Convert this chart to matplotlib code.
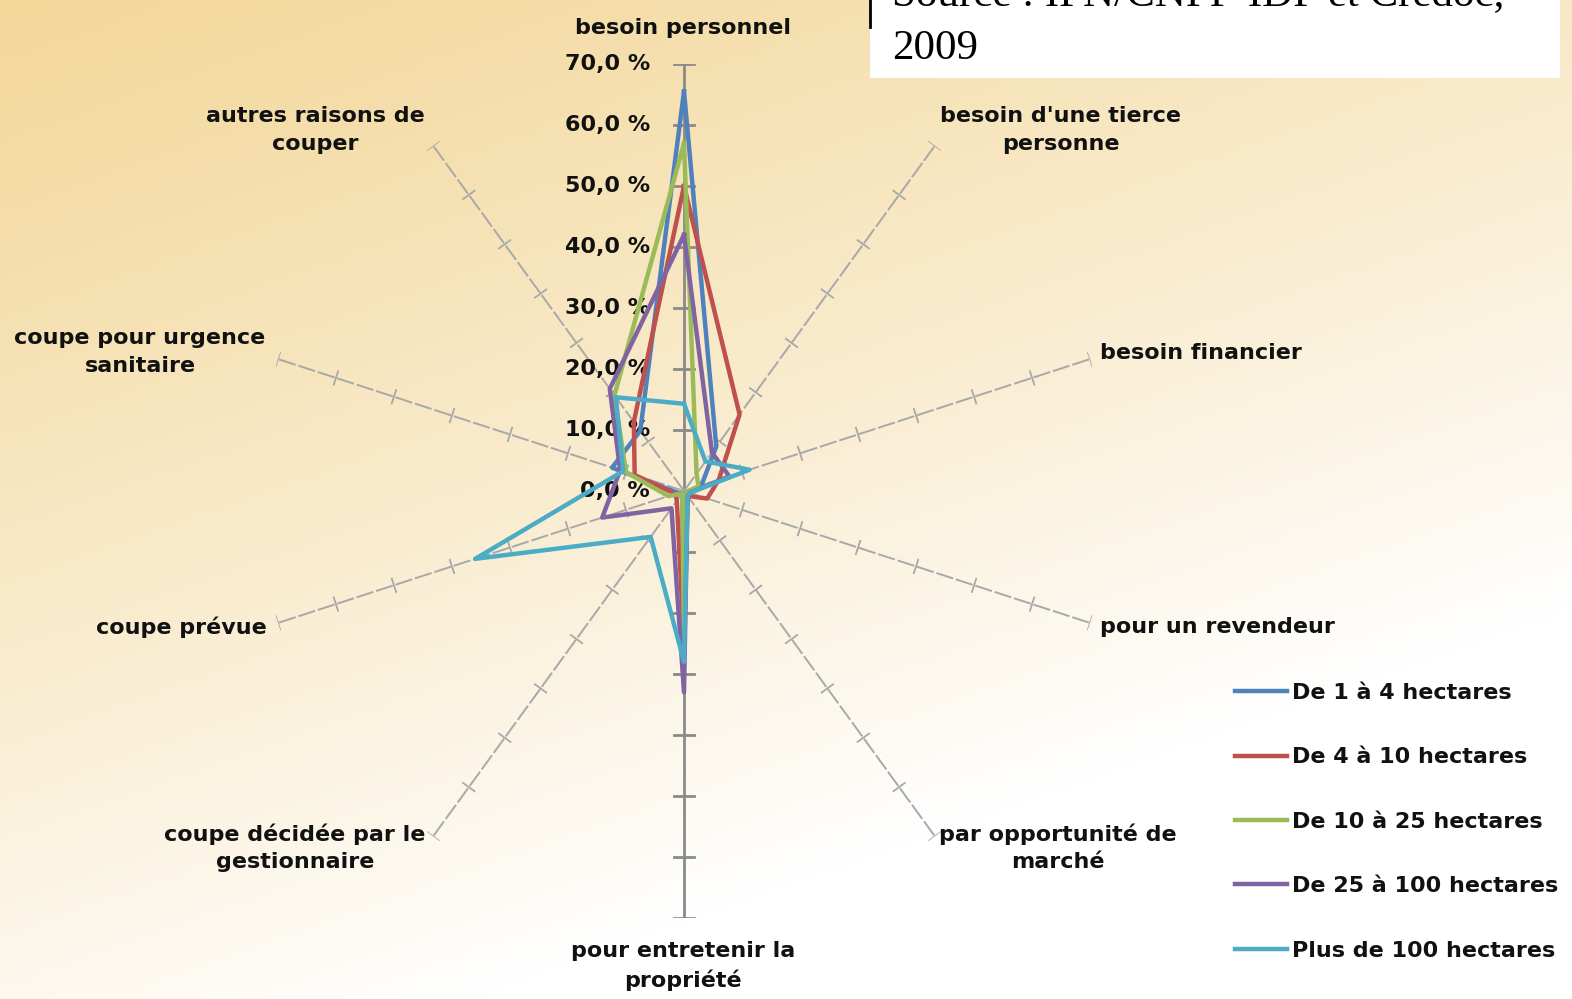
import numpy as np
import matplotlib.pyplot as plt
from matplotlib import transforms
from matplotlib.lines import Line2D
from matplotlib.patches import Rectangle

# axes of the radar, clockwise from the top
categories = ["besoin personnel", "besoin d'une tierce\npersonne", "besoin financier",
              "pour un revendeur", "par opportunité de\nmarché", "pour entretenir la\npropriété",
              "coupe décidée par le\ngestionnaire", "coupe prévue",
              "coupe pour urgence\nsanitaire", "autres raisons de\ncouper"]

series_names = ["De 1 à 4 hectares", "De 4 à 10 hectares", "De 10 à 25 hectares",
                "De 25 à 100 hectares", "Plus de 100 hectares"]

de_1_4 = [65.5, 9.0, 3.0, 1.0, 0.5, 25.0, 0.5, 1.0, 12.4, 12.2]
de_4_10 = [50.0, 15.5, 6.0, 4.0, 1.0, 25.0, 2.0, 1.5, 8.5, 14.0]
de_10_25 = [57.0, 3.5, 2.5, 0.5, 0.5, 24.0, 0.5, 2.7, 10.0, 19.4]
de_25_100 = [42.0, 7.8, 7.8, 1.0, 1.0, 33.0, 3.5, 14.1, 11.0, 20.7]
plus_100 = [14.3, 6.0, 11.3, 1.0, 1.0, 28.0, 9.3, 36.0, 10.5, 19.0]

r_ticks = [0, 10, 20, 30, 40, 50, 60, 70]
r_labels = ["0,0 %", "10,0 %", "20,0 %", "30,0 %", "40,0 %", "50,0 %", "60,0 %", "70,0 %"]

colors = ["#4F81BD", "#C0504D", "#9BBB59", "#8064A2", "#4BACC6"]

W, H = 1572, 999
fig = plt.figure(figsize=(W / 100, H / 100), dpi=100)

def fx(x):
    return x / W

def fy(y):
    return 1 - y / H

# background gradient (orange top-left -> white bottom)
bg = fig.add_axes([0, 0, 1, 1], zorder=-10)
yy, xx = np.mgrid[0:1:200j, 0:1:300j]
d = np.clip((0.5 * xx + 0.9 * yy) / 1.05, 0, 1) ** 1.2
c0 = np.array([243, 216, 156]) / 255
img = c0 + (1 - c0) * d[..., None]
bg.imshow(img, extent=[0, 1, 0, 1], origin="upper", aspect="auto")
bg.axis("off")

# radar axes
cx, cy, R = 684, 491, 427
ax = fig.add_axes([fx(cx - R), (H - cy - R) / H, 2 * R / W, 2 * R / H], projection="polar")
ax.set_theta_zero_location("N")
ax.set_theta_direction(-1)
ax.set_ylim(0, 70)
ax.patch.set_alpha(0)
ax.grid(False)
for s in ax.spines.values():
    s.set_visible(False)
ax.set_xticks([])
ax.set_yticks([])

n = len(categories)
angles = np.arange(n) * 2 * np.pi / n
px_per_unit = R / 70

for i, a in enumerate(angles):
    main = i in (0, 5)
    col = "#8a8a8a" if main else "#a8a8a8"
    lw = 2.0 if main else 1.4
    ls = "-" if main else (0, (9, 1.5))
    ax.plot([a, a], [0, 70], color=col, lw=lw, ls=ls, zorder=1)
    h = (10 if main else 7) / px_per_unit
    for r in r_ticks[1:]:
        rr = np.hypot(r, h)
        dt = np.arctan2(h, r)
        ax.plot([a - dt, a + dt], [rr, rr], color=col, lw=lw if main else 1.3, zorder=1)

# value labels on the top axis
off = transforms.offset_copy(ax.transData, fig=fig, x=-34, y=0, units="dots")
for r, lab in zip(r_ticks, r_labels):
    ax.text(0, r, lab, transform=off, ha="right", va="center",
            fontsize=16, fontweight="bold", color="#111111")

series = [de_1_4, de_4_10, de_10_25, de_25_100, plus_100]
handles = []
for vals, c, name in zip(series, colors, series_names):
    th = np.append(angles, angles[0])
    rv = np.append(vals, vals[0])
    ln, = ax.plot(th, rv, color=c, lw=3.2, zorder=3, label=name)
    handles.append(ln)

# category labels
label_pos = [
    (683, 28, "center"), (1061, 130, "center"), (1100, 353, "left"),
    (1100, 627, "left"), (1058, 848, "center"), (683, 966, "center"),
    (295, 848, "center"), (267, 627, "right"), (140, 352, "center"),
    (315, 130, "center"),
]
for (x, y, ha), lab in zip(label_pos, categories):
    fig.text(fx(x), fy(y), lab, ha=ha, va="center", multialignment="center",
             fontsize=16, fontweight="bold", linespacing=1.45, color="#111111")

leg = fig.legend(handles, series_names, loc="upper left",
                 bbox_to_anchor=(fx(1226), fy(674)), frameon=False,
                 prop={"size": 16, "weight": "bold"}, handlelength=2.35,
                 handletextpad=0.2, labelspacing=2.0, borderaxespad=0)
for t in leg.get_texts():
    t.set_color("#111111")

# source box, top right (cut by the frame)
fig.add_artist(Rectangle((fx(870), fy(78)), fx(690), 78 / H, transform=fig.transFigure,
                         facecolor="white", edgecolor="none", zorder=5))
fig.add_artist(Line2D([fx(870), fx(870)], [fy(0), fy(27)], transform=fig.transFigure,
                      color="black", lw=2, zorder=6))
fig.text(fx(892), fy(5), "Source : IFN/CNPF-IDF et Credoc,", family="Liberation Serif",
         fontsize=31, va="baseline", ha="left", zorder=7)
fig.text(fx(892), fy(59), "2009", family="Liberation Serif",
         fontsize=31, va="baseline", ha="left", zorder=7)

fig.savefig("out.png", dpi=100)
